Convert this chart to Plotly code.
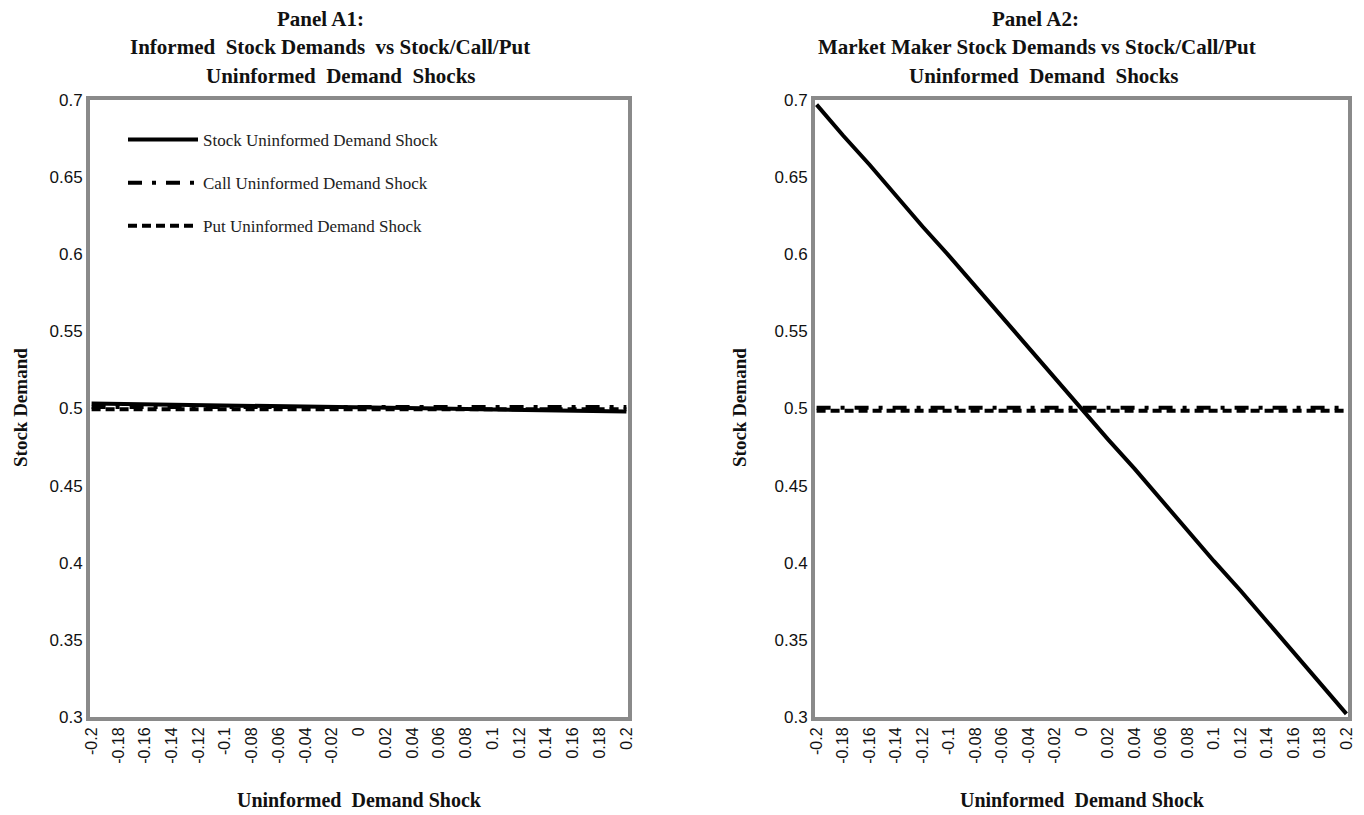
import plotly.graph_objects as go

shock = [-0.2, -0.18, -0.16, -0.14, -0.12, -0.1, -0.08, -0.06, -0.04, -0.02, 0.0,
         0.02, 0.04, 0.06, 0.08, 0.1, 0.12, 0.14, 0.16, 0.18, 0.2]
shock_labels = ["-0.2", "-0.18", "-0.16", "-0.14", "-0.12", "-0.1", "-0.08", "-0.06", "-0.04", "-0.02", "0",
                "0.02", "0.04", "0.06", "0.08", "0.1", "0.12", "0.14", "0.16", "0.18", "0.2"]

a1_stock = [0.5032, 0.5030, 0.5028, 0.5026, 0.5024, 0.5021, 0.5018, 0.5016, 0.5013, 0.5010, 0.5008,
            0.5005, 0.5002, 0.5000, 0.4997, 0.4994, 0.4992, 0.4989, 0.4986, 0.4983, 0.4980]
a1_call = [0.5010, 0.5010, 0.5010, 0.5010, 0.5010, 0.5010, 0.5010, 0.5010, 0.5010, 0.5010, 0.5010,
           0.5010, 0.5010, 0.5010, 0.5010, 0.5010, 0.5010, 0.5010, 0.5010, 0.5010, 0.5010]
a1_put = [0.4995, 0.4995, 0.4995, 0.4995, 0.4995, 0.4995, 0.4995, 0.4995, 0.4995, 0.4995, 0.4995,
          0.4995, 0.4995, 0.4995, 0.4995, 0.4995, 0.4995, 0.4995, 0.4995, 0.4995, 0.4995]

a2_stock = [0.697, 0.677, 0.658, 0.638, 0.618, 0.599, 0.579, 0.559, 0.539, 0.520, 0.500,
            0.480, 0.461, 0.441, 0.421, 0.401, 0.382, 0.362, 0.342, 0.322, 0.302]
a2_call = [0.5005, 0.5005, 0.5005, 0.5005, 0.5005, 0.5005, 0.5005, 0.5005, 0.5005, 0.5005, 0.5005,
           0.5005, 0.5005, 0.5005, 0.5005, 0.5005, 0.5005, 0.5005, 0.5005, 0.5005, 0.5005]
a2_put = [0.4985, 0.4985, 0.4985, 0.4985, 0.4985, 0.4985, 0.4985, 0.4985, 0.4985, 0.4985, 0.4985,
          0.4985, 0.4985, 0.4985, 0.4985, 0.4985, 0.4985, 0.4985, 0.4985, 0.4985, 0.4985]

y_ticks = [0.3, 0.35, 0.4, 0.45, 0.5, 0.55, 0.6, 0.65, 0.7]
y_tick_labels = ["0.3", "0.35", "0.4", "0.45", "0.5", "0.55", "0.6", "0.65", "0.7"]

series_names = ["Stock Uninformed Demand Shock", "Call Uninformed Demand Shock", "Put Uninformed Demand Shock"]
dashes = ["solid", "14px,10px,4px,10px", "9px,5px"]

SERIF = "Liberation Serif, Times New Roman, serif"
SANS = "Liberation Sans, Arial, sans-serif"

fig = go.Figure()
for i, (ys, name) in enumerate(zip([a1_stock, a1_call, a1_put], series_names)):
    fig.add_trace(go.Scatter(x=shock, y=ys, mode="lines", name=name, legendgroup=name,
                             line=dict(color="black", width=4, dash=dashes[i]),
                             xaxis="x", yaxis="y"))
for i, (ys, name) in enumerate(zip([a2_stock, a2_call, a2_put], series_names)):
    fig.add_trace(go.Scatter(x=shock, y=ys, mode="lines", name=name, showlegend=False,
                             line=dict(color="black", width=4, dash=dashes[i]),
                             xaxis="x2", yaxis="y2"))

# page body has an 8px margin; figure is sized so it fits the 1364x815 window exactly
OFF = 8
W = 1364.0 - OFF
H = 815.0 - OFF


def px(x):
    return (x - OFF) / W


def py(y):
    return 1 - (y - OFF) / H


axis_common = dict(showgrid=False, zeroline=False, showline=True, mirror=True, automargin=False,
                   linecolor="#8a8a8a", linewidth=4, ticks="")
xaxis_common = dict(axis_common, range=[-0.2012, 0.2012], tickvals=shock, ticktext=shock_labels,
                    tickangle=-90, tickfont=dict(family=SANS, size=16, color="#111"))
yaxis_common = dict(axis_common, range=[0.3, 0.7], tickvals=y_ticks, ticktext=y_tick_labels,
                    tickfont=dict(family=SANS, size=17, color="#111"))

fig.update_layout(
    width=int(W), height=int(H),
    margin=dict(l=0, r=0, t=0, b=0, autoexpand=False),
    plot_bgcolor="white", paper_bgcolor="white",
    xaxis=dict(xaxis_common, domain=[px(90), px(628)], anchor="y"),
    yaxis=dict(yaxis_common, domain=[py(717), py(100)], anchor="x"),
    xaxis2=dict(xaxis_common, domain=[px(815), px(1348)], anchor="y2"),
    yaxis2=dict(yaxis_common, domain=[py(717), py(100)], anchor="x2"),
    showlegend=True,
    legend=dict(x=px(123), y=py(122), xanchor="left", yanchor="top",
                bgcolor="rgba(0,0,0,0)", tracegroupgap=18, itemwidth=70,
                font=dict(family=SERIF, size=17, color="#222")),
)

annots = []
title_lines_left = [("Panel A1:", 320, 19), ("Informed  Stock Demands  vs Stock/Call/Put", 330, 47),
                    ("Uninformed  Demand  Shocks", 341, 76)]
title_lines_right = [("Panel A2:", 1035, 19), ("Market Maker Stock Demands vs Stock/Call/Put", 1037, 47),
                     ("Uninformed  Demand  Shocks", 1044, 76)]
for txt, cx, cy in title_lines_left + title_lines_right:
    annots.append(dict(text="<b>" + txt + "</b>", x=px(cx), y=py(cy), xref="paper", yref="paper",
                       showarrow=False, xanchor="center", yanchor="middle",
                       font=dict(family=SERIF, size=21, color="#111")))
for cx in (359, 1082):
    annots.append(dict(text="<b>Uninformed  Demand Shock</b>", x=px(cx), y=py(800), xref="paper",
                       yref="paper", showarrow=False, xanchor="center", yanchor="middle",
                       font=dict(family=SERIF, size=20, color="#111")))
for cx in (20, 739):
    annots.append(dict(text="<b>Stock Demand</b>", x=px(cx), y=py(408), xref="paper",
                       yref="paper", showarrow=False, xanchor="center", yanchor="middle", textangle=-90,
                       font=dict(family=SERIF, size=19, color="#111")))
fig.update_layout(annotations=annots)

fig.write_html("out.html")
